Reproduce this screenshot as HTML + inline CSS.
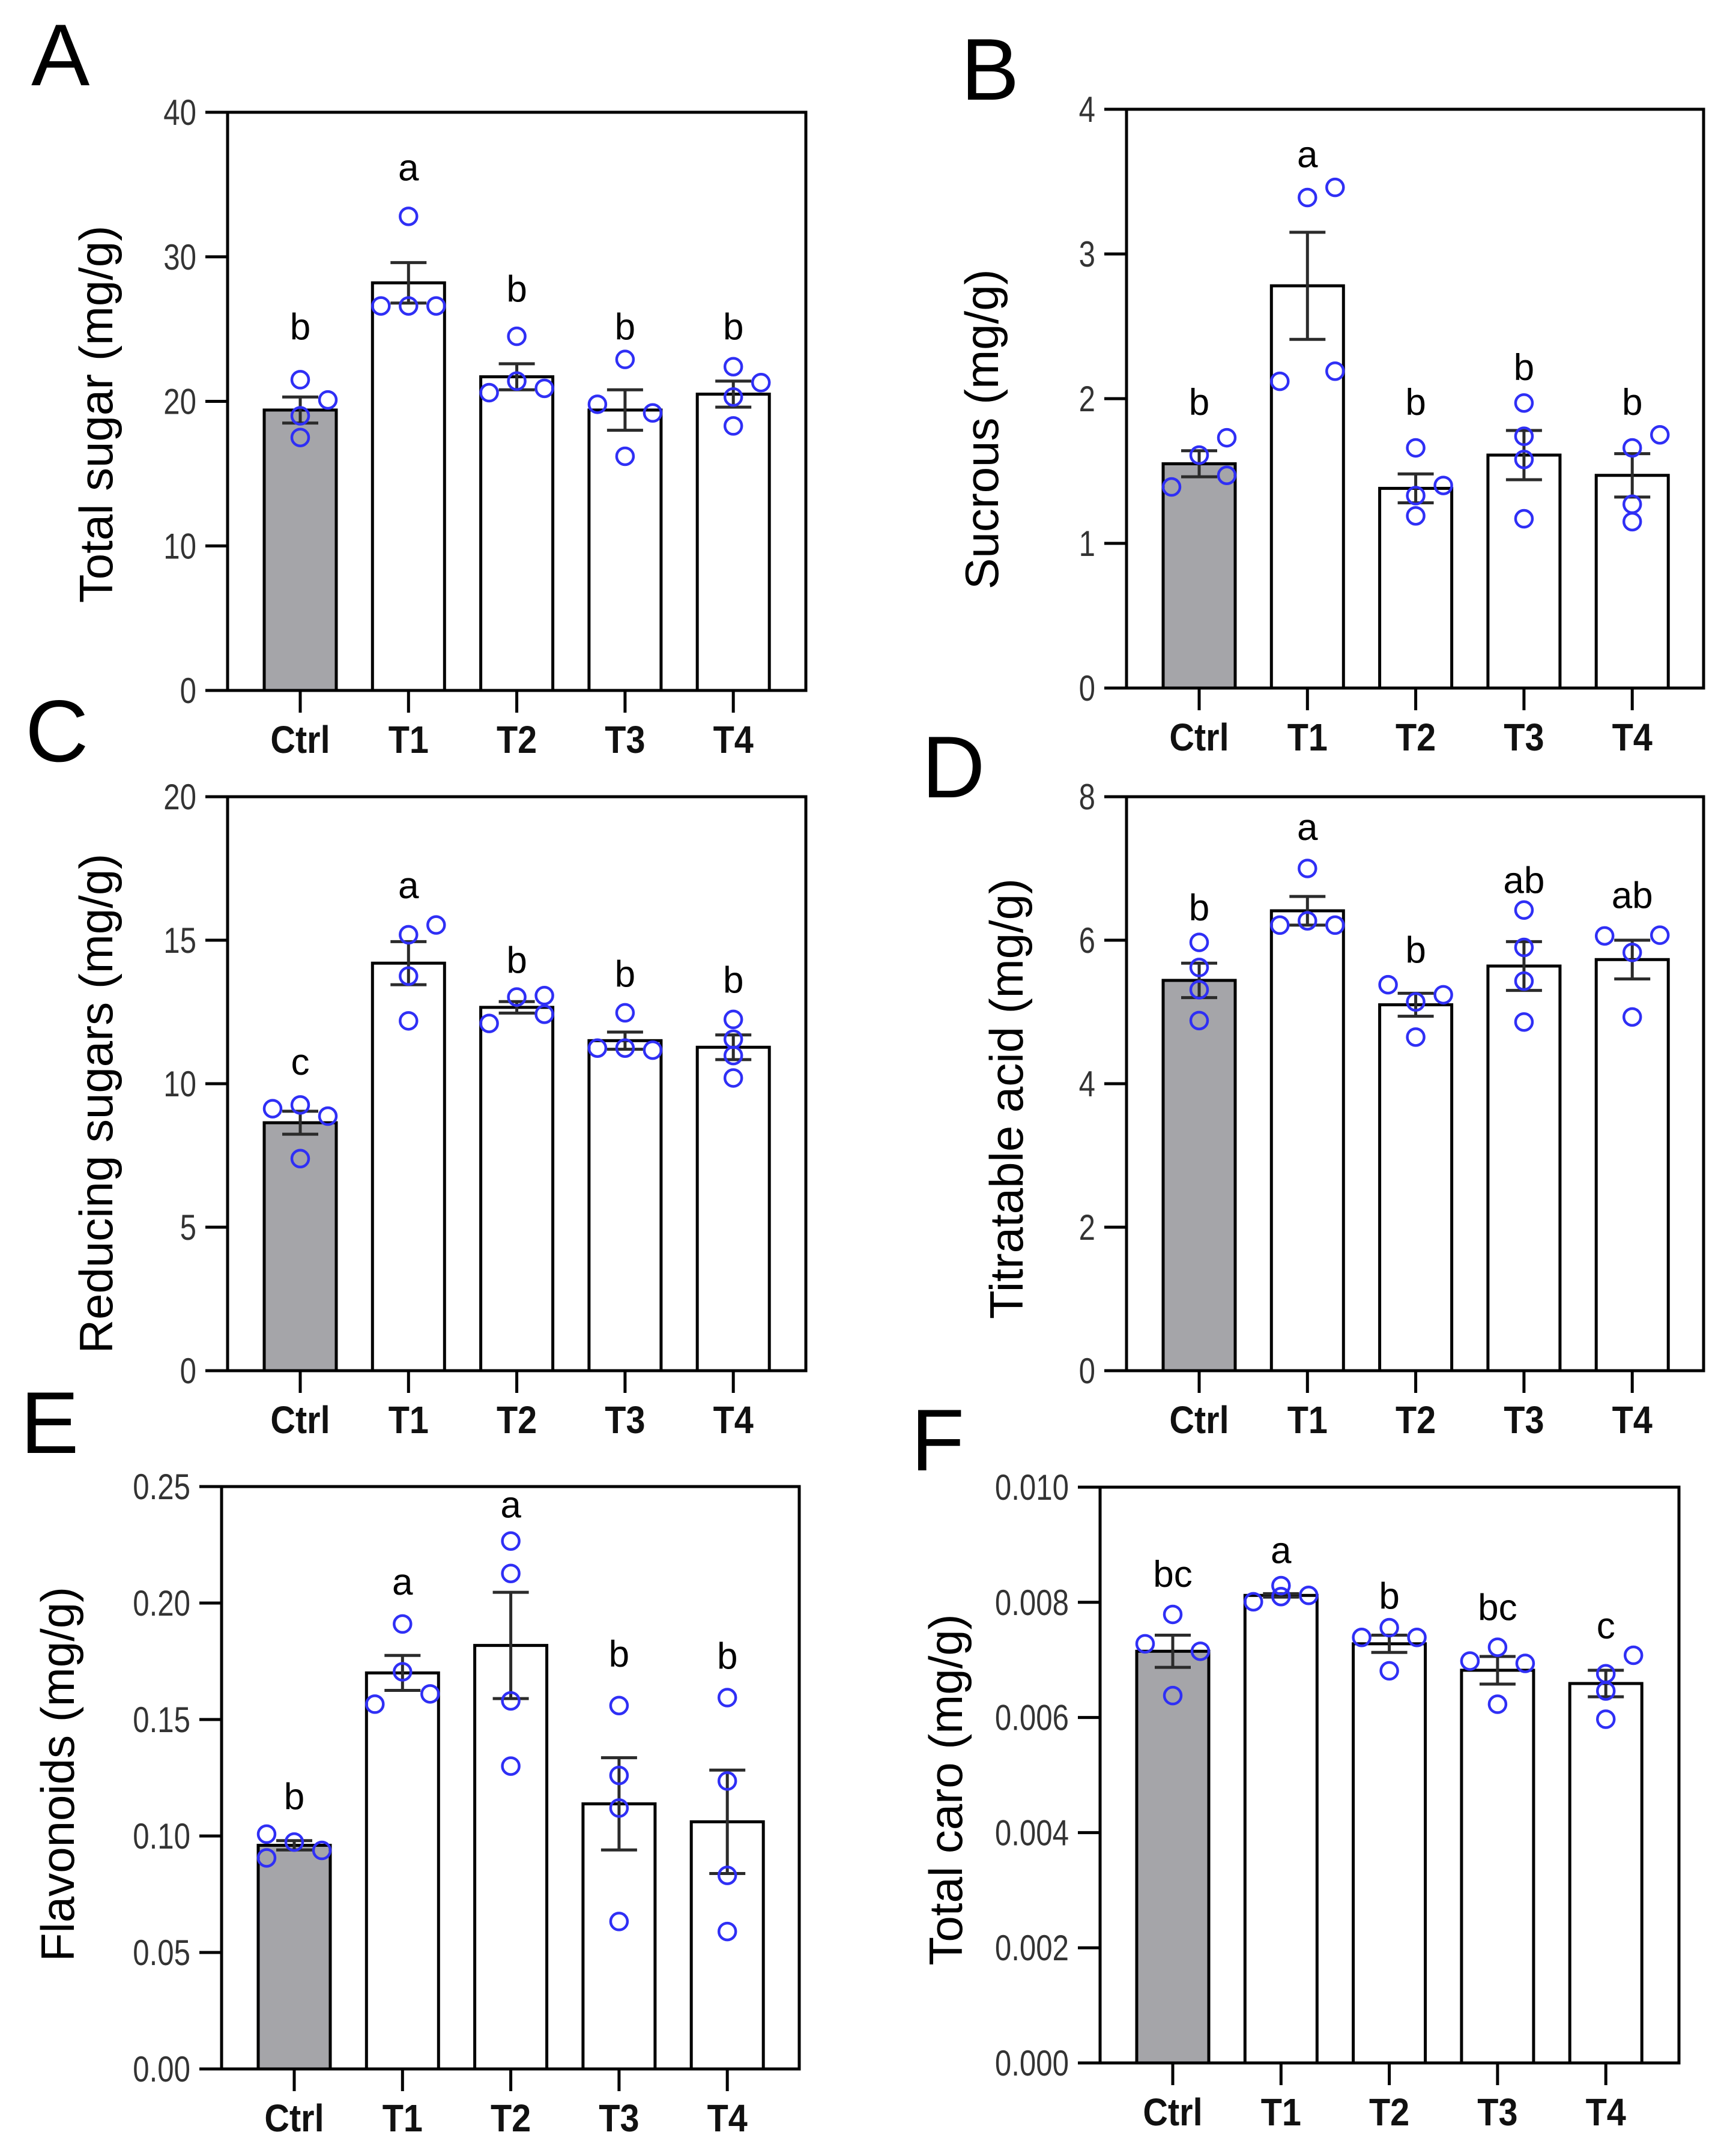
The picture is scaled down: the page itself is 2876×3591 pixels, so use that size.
<!DOCTYPE html>
<html><head><meta charset="utf-8"><style>
html,body{margin:0;padding:0;background:#fff}
svg{display:block}
text{font-family:"Liberation Sans",Arial,sans-serif}
</style></head><body>
<svg id="fig" xmlns="http://www.w3.org/2000/svg" width="2876" height="3591" viewBox="0 0 2876 3591">
<rect width="2876" height="3591" fill="#fff"/>
</svg>
<script>
const categories = ["Ctrl","T1","T2","T3","T4"];

// Panel A
const aMeans = [19.4, 28.2, 21.7, 19.4, 20.5];
const aSem = [0.9, 1.4, 0.9, 1.4, 0.9];
const aPoints = [[21.5,20.1,19.0,17.5],[32.8,26.6,26.6,26.6],[24.5,20.6,21.4,20.9],[22.9,19.8,19.2,16.2],[22.4,21.3,20.3,18.3]];
const aJitter = [[0,1,0,0],[0,-1,0,1],[0,-1,0,1],[0,-1,1,0],[0,1,0,0]];
const aLetters = ["b","a","b","b","b"];
const aLetterY = [25.2,36.2,27.8,25.2,25.2];
const aTicks = [0,10,20,30,40];
const aTickLabels = ["0","10","20","30","40"];

// Panel B
const bMeans = [1.55, 2.78, 1.38, 1.61, 1.47];
const bSem = [0.09, 0.37, 0.1, 0.17, 0.15];
const bPoints = [[1.73,1.61,1.47,1.39],[3.39,3.46,2.12,2.19],[1.66,1.40,1.33,1.19],[1.97,1.74,1.58,1.17],[1.75,1.66,1.27,1.15]];
const bJitter = [[1,0,1,-1],[0,1,-1,1],[0,1,0,0],[0,0,0,0],[1,0,0,0]];
const bLetters = ["b","a","b","b","b"];
const bLetterY = [1.98,3.69,1.98,2.22,1.98];
const bTicks = [0,1,2,3,4];
const bTickLabels = ["0","1","2","3","4"];

// Panel C
const cMeans = [8.64, 14.2, 12.66, 11.5, 11.27];
const cSem = [0.4, 0.75, 0.2, 0.3, 0.43];
const cPoints = [[9.13,9.26,8.87,7.39],[15.53,15.19,13.75,12.19],[13.02,13.07,12.42,12.1],[12.47,11.24,11.24,11.17],[12.24,11.55,10.98,10.2]];
const cJitter = [[-1,0,1,0],[1,0,0,0],[0,1,1,-1],[0,-1,0,1],[0,0,0,0]];
const cLetters = ["c","a","b","b","b"];
const cLetterY = [10.77,16.92,14.32,13.84,13.63];
const cTicks = [0,5,10,15,20];
const cTickLabels = ["0","5","10","15","20"];

// Panel D
const dMeans = [5.44, 6.41, 5.1, 5.64, 5.73];
const dSem = [0.24, 0.2, 0.16, 0.34, 0.27];
const dPoints = [[5.97,5.62,5.31,4.88],[7.0,6.27,6.21,6.21],[5.38,5.24,5.14,4.65],[6.42,5.9,5.43,4.86],[6.06,6.07,5.83,4.93]];
const dJitter = [[0,0,0,0],[0,0,-1,1],[-1,1,0,0],[0,0,0,0],[-1,1,0,0]];
const dLetters = ["b","a","b","ab","ab"];
const dLetterY = [6.46,7.58,5.87,6.84,6.63];
const dTicks = [0,2,4,6,8];
const dTickLabels = ["0","2","4","6","8"];

// Panel E
const eMeans = [0.096, 0.170, 0.1818, 0.1138, 0.1061];
const eSem = [0.002, 0.0075, 0.0228, 0.0198, 0.0222];
const ePoints = [[0.1008,0.0974,0.0938,0.0906],[0.191,0.1705,0.161,0.1566],[0.2266,0.2127,0.158,0.13],[0.156,0.126,0.112,0.0633],[0.1594,0.1236,0.0831,0.059]];
const eJitter = [[-1,0,1,-1],[0,0,1,-1],[0,0,0,0],[0,0,0,0],[0,0,0,0]];
const eLetters = ["b","a","a","b","b"];
const eLetterY = [0.1172,0.2093,0.2424,0.1784,0.1775];
const eTicks = [0,0.05,0.10,0.15,0.20,0.25];
const eTickLabels = ["0.00","0.05","0.10","0.15","0.20","0.25"];

// Panel F
const fMeans = [0.00715, 0.00812, 0.00728, 0.00682, 0.00659];
const fSem = [0.00028, 0.00003, 0.00015, 0.00024, 0.00023];
const fPoints = [[0.00779,0.00728,0.00715,0.00638],[0.00829,0.00812,0.0081,0.00801],[0.00756,0.00739,0.00739,0.00681],[0.00722,0.00698,0.00694,0.00623],[0.00708,0.00676,0.00646,0.00597]];
const fJitter = [[0,-1,1,0],[0,1,0,-1],[0,-1,1,0],[0,-1,1,0],[1,0,0,0]];
const fLetters = ["bc","a","b","bc","c"];
const fLetterY = [0.0085,0.00891,0.00812,0.00792,0.0076];
const fTicks = [0,0.002,0.004,0.006,0.008,0.010];
const fTickLabels = ["0.000","0.002","0.004","0.006","0.008","0.010"];

const NS = "http://www.w3.org/2000/svg";
const svg = document.getElementById("fig");
function mk(tag, attrs, parent){
  const e = document.createElementNS(NS, tag);
  for (const k in attrs) e.setAttribute(k, attrs[k]);
  (parent||svg).appendChild(e);
  return e;
}

function panel(cfg){
  const g = mk("g", {});
  
  
  const L=cfg.left, R=cfg.right, T=cfg.top, B=cfg.bottom, ymax=cfg.ymax;
  const y = v => B - v/ymax*(B-T);
  const x = i => L + 121 + i*180.3;
  const hw = 60;

  // panel letter
  const pl = mk("text", {x:cfg.lx, y:cfg.ly, "font-size":146, fill:"#000"}, g);
  pl.textContent = cfg.letter;
  
  

  // bars
  cfg.means.forEach((m,i)=>{
    const r = mk("rect", {x:x(i)-hw, y:y(m), width:2*hw, height:B-y(m), fill: i===0?"#a5a5a9":"#fff", stroke:"#000","stroke-width":5}, g);
    
    
  });
  // error bars
  cfg.means.forEach((m,i)=>{
    const eg = mk("g", {stroke:"#2b2b2b","stroke-width":5}, g);
    
    
    const hi=y(m+cfg.sem[i]), lo=y(m-cfg.sem[i]);
    mk("line",{x1:x(i),x2:x(i),y1:hi,y2:lo},eg);
    mk("line",{x1:x(i)-30,x2:x(i)+30,y1:hi,y2:hi},eg);
    mk("line",{x1:x(i)-30,x2:x(i)+30,y1:lo,y2:lo},eg);
  });
  // points
  cfg.points.forEach((arr,i)=>{
    arr.forEach((v,j)=>{
      const c = mk("circle",{cx:x(i)+cfg.jitter[i][j]*46, cy:y(v), r:14, fill:"none", stroke:"#2f2ff5","stroke-width":4.5}, g);
      
      
    });
  });
  // significance letters
  cfg.letters.forEach((s,i)=>{
    const t = mk("text",{x:x(i), y:y(cfg.letterY[i])+22, "font-size":62, "text-anchor":"middle", fill:"#000"}, g);
    t.textContent = s;
    
    
  });
  // frame
  const fr = mk("rect",{x:L,y:T,width:R-L,height:B-T,fill:"none",stroke:"#000","stroke-width":5}, g);
  
  
  // y ticks
  cfg.ticks.forEach((v,k)=>{
    mk("line",{x1:L-37,x2:L,y1:y(v),y2:y(v),stroke:"#000","stroke-width":5},g);
    const t = mk("text",{x:0,y:0,"font-size":60,"text-anchor":"end",fill:"#333",transform:"translate("+(L-52)+","+(y(v)+21)+") scale(0.82,1)"},g);
    t.textContent = cfg.tickLabels[k];
    
    
  });
  // x ticks
  categories.forEach((c,i)=>{
    mk("line",{x1:x(i),x2:x(i),y1:B,y2:B+37,stroke:"#000","stroke-width":5},g);
    const t = mk("text",{x:0,y:0,"font-size":64,"font-weight":"bold","text-anchor":"middle",fill:"#111",transform:"translate("+x(i)+","+(B+104)+") scale(0.9,1)"},g);
    t.textContent = c;
    
    
  });
  // y title
  const yt = mk("text",{x:0,y:0,"font-size":78,"text-anchor":"middle",fill:"#000",transform:"translate("+(cfg.tx+27)+","+cfg.ty+") rotate(-90)"},g);
  yt.textContent = cfg.title;
  
  
}

panel({id:"a",letter:"A",lx:52,ly:142,left:379,right:1342,top:187,bottom:1150,ymax:40,
  means:aMeans,sem:aSem,points:aPoints,jitter:aJitter,letters:aLetters,letterY:aLetterY,ticks:aTicks,tickLabels:aTickLabels,
  title:"Total sugar (mg/g)",tx:160,ty:690});
panel({id:"b",letter:"B",lx:1600,ly:166,left:1876,right:2837,top:182,bottom:1146,ymax:4,
  means:bMeans,sem:bSem,points:bPoints,jitter:bJitter,letters:bLetters,letterY:bLetterY,ticks:bTicks,tickLabels:bTickLabels,
  title:"Sucrous  (mg/g)",tx:1635,ty:715});
panel({id:"c",letter:"C",lx:42,ly:1268,left:379,right:1342,top:1327,bottom:2283,ymax:20,
  means:cMeans,sem:cSem,points:cPoints,jitter:cJitter,letters:cLetters,letterY:cLetterY,ticks:cTicks,tickLabels:cTickLabels,
  title:"Reducing sugars (mg/g)",tx:160,ty:1838});
panel({id:"d",letter:"D",lx:1535,ly:1328,left:1876,right:2837,top:1327,bottom:2283,ymax:8,
  means:dMeans,sem:dSem,points:dPoints,jitter:dJitter,letters:dLetters,letterY:dLetterY,ticks:dTicks,tickLabels:dTickLabels,
  title:"Titratable acid (mg/g)",tx:1676,ty:1830});
panel({id:"e",letter:"E",lx:34,ly:2420,left:369,right:1331,top:2476,bottom:3446,ymax:0.25,
  means:eMeans,sem:eSem,points:ePoints,jitter:eJitter,letters:eLetters,letterY:eLetterY,ticks:eTicks,tickLabels:eTickLabels,
  title:"Flavonoids (mg/g)",tx:96,ty:2955});
panel({id:"f",letter:"F",lx:1517,ly:2449,left:1832,right:2796,top:2477,bottom:3436,ymax:0.01,
  means:fMeans,sem:fSem,points:fPoints,jitter:fJitter,letters:fLetters,letterY:fLetterY,ticks:fTicks,tickLabels:fTickLabels,
  title:"Total caro (mg/g)",tx:1575,ty:2981});
</script>
</body></html>
